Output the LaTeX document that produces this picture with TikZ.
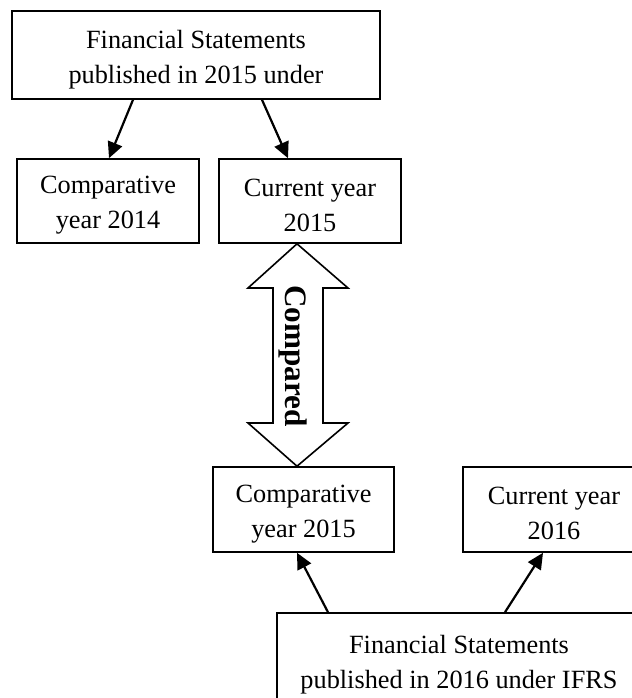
\documentclass[tikz,border=0pt]{standalone}
\usepackage{fontspec}
\setmainfont{Liberation Serif}
\usetikzlibrary{arrows.meta}
\begin{document}
\begin{tikzpicture}[x=0.5pt,y=-0.5pt,
  box/.style={draw=black,line width=0.8pt,inner sep=0pt},
  boxtext/.style={align=center,inner sep=0pt,font=\fontsize{13.15}{17.5}\selectfont},
  conn/.style={line width=1.1pt,-{Triangle[length=8pt,width=7.5pt]}}]
\useasboundingbox (0,0) rectangle (632,698);
\clip (0,0) rectangle (632,698);
\fill[white] (0,0) rectangle (632,698);
\node[box,minimum width=184pt,minimum height=44pt] (top) at (196,55) {};
\node[box,minimum width=91pt,minimum height=42pt] (c14) at (108,201) {};
\node[box,minimum width=91pt,minimum height=42pt] (cur15) at (310,201) {};
\node[box,minimum width=90.5pt,minimum height=42.5pt] (c15) at (303.5,509.5) {};
\node[box,minimum width=91pt,minimum height=42.5pt] (cur16) at (554,509.5) {};
\node[box,minimum width=182pt,minimum height=47pt] (bot) at (459,660) {};
\node[boxtext] (topt) at ([yshift=-2.2pt]top.center) {Financial Statements\\published in 2015 under};
\node[boxtext] (c14t) at ([yshift=-2.2pt]c14.center) {Comparative\\year 2014};
\node[boxtext] (cur15t) at ([yshift=-2.2pt]cur15.center) {Current year\\2015};
\node[boxtext] (c15t) at ([yshift=-2.2pt]c15.center) {Comparative\\year 2015};
\node[boxtext] (cur16t) at ([yshift=-2.2pt]cur16.center) {Current year\\2016};
\node[boxtext] (bott) at ([yshift=-2.2pt]bot.center) {Financial Statements\\published in 2016 under IFRS};
\draw[conn] (133,0 |- top.south) -- (109,0 |- c14.north);
\draw[conn] (262,0 |- top.south) -- (288,0 |- cur15.north);
\draw[conn] (328,0 |- bot.north) -- (297,0 |- c15.south);
\draw[conn] (505,0 |- bot.north) -- (543,0 |- cur16.south);
\draw[line width=0.8pt,fill=white,line join=miter]
  (297,0 |- cur15.south) -- (348,288) -- (323,288) -- (323,423) -- (348,423)
  -- (297,0 |- c15.north) -- (248,423) -- (273,423) -- (273,288) -- (248,288) -- cycle;
\node[rotate=-90,font=\fontsize{15.6}{18}\selectfont\bfseries,inner sep=0pt] (cmp) at (293.5,356) {Compared};
\end{tikzpicture}
\end{document}
